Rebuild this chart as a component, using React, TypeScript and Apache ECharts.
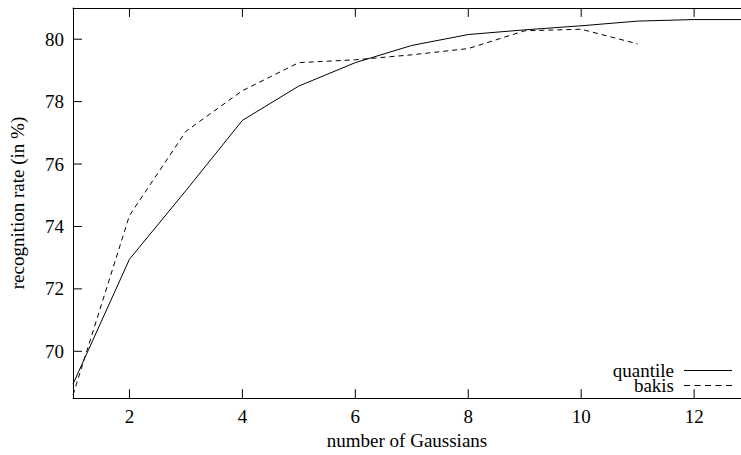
import React, { useEffect, useRef } from "react";
import * as echarts from "echarts";

const xGaussians = [1, 2, 3, 4, 5, 6, 7, 8, 9, 10, 11, 12, 13];
const quantile = [68.95, 72.95, 75.15, 77.4, 78.5, 79.25, 79.8, 80.15, 80.3, 80.43, 80.58, 80.63, 80.63];
const bakis = [68.6, 74.35, 77.05, 78.35, 79.25, 79.34, 79.5, 79.7, 80.27, 80.32, 79.85];
const xTicks = [2, 4, 6, 8, 10, 12];
const yTicks = [70, 72, 74, 76, 78, 80];

const FONT = "Liberation Serif";
const SOLID_ICON = "path://M0,0h48v1h-48z";
const DASH_ICON = "path://M0,0h6v1h-6zM10.5,0h6v1h-6zM21,0h6v1h-6zM31.5,0h6v1h-6zM42,0h6v1h-6z";

const X_MIN = 1;
const X_MAX = 12.83;
const Y_MIN = 68.5;
const Y_MAX = 81;
const TICK = 9;
const W = 741;
const H = 455;
const GRID = { left: 71, right: 0, top: 8, bottom: 53 };

export default function App() {
  const ref = useRef<HTMLDivElement>(null);
  useEffect(() => {
    if (!ref.current) return;
    const chart = echarts.init(ref.current, null, { renderer: "svg" });
    const axisLine = { show: true, lineStyle: { color: "#000", width: 1 } };
    const plotW = W - GRID.left - GRID.right;
    const plotH = H - GRID.top - GRID.bottom;
    const dx = (TICK * (X_MAX - X_MIN)) / plotW;
    const dy = (TICK * (Y_MAX - Y_MIN)) / plotH;
    const tickLine = (name: string, data: any[]) => ({
      name,
      type: "line",
      data,
      symbol: "none",
      showSymbol: false,
      connectNulls: false,
      silent: true,
      lineStyle: { color: "#000", width: 1 },
      itemStyle: { color: "#000" },
      z: 3,
    });
    const bottomTicks = xTicks.flatMap((x) => [[x, Y_MIN], [x, Y_MIN + dy], [x, "-"]]);
    const topTicks = xTicks.flatMap((x) => [[x, Y_MAX], [x, Y_MAX - dy], [x, "-"]]);
    const leftTicks = yTicks.flatMap((y) => [[X_MIN, y], [X_MIN + dx, y], ["-", y]]);
    const legendBase = {
      right: 4,
      align: "right",
      itemWidth: 48,
      itemHeight: 1,
      itemGap: 10,
      textStyle: {
        fontFamily: FONT,
        fontSize: 19,
        color: "#000",
        lineHeight: 15,
        padding: [0, 5, 0, 0],
      },
      itemStyle: { color: "#000" },
    };
    chart.setOption({
      animation: false,
      backgroundColor: "#fff",
      textStyle: { fontFamily: FONT, color: "#000" },
      grid: GRID,
      legend: [
        { ...legendBase, data: [{ name: "quantile", icon: SOLID_ICON }], top: 356 },
        { ...legendBase, data: [{ name: "bakis", icon: DASH_ICON }], top: 371 },
      ],
      xAxis: [
        {
          type: "value",
          min: X_MIN,
          max: X_MAX,
          position: "bottom",
          name: "number of Gaussians",
          nameLocation: "middle",
          nameGap: 29,
          nameTextStyle: { fontFamily: FONT, fontSize: 19, color: "#000" },
          axisLine,
          axisTick: { show: false },
          splitLine: { show: false },
          axisLabel: {
            customValues: xTicks,
            fontFamily: FONT,
            fontSize: 19,
            color: "#000",
            margin: 9,
          },
        },
        {
          type: "value",
          min: X_MIN,
          max: X_MAX,
          position: "top",
          axisLine,
          axisTick: { show: false },
          splitLine: { show: false },
          axisLabel: { show: false },
        },
      ],
      yAxis: {
        type: "value",
        min: Y_MIN,
        max: Y_MAX,
        position: "left",
        name: "recognition rate (in %)",
        nameLocation: "middle",
        nameGap: 46,
        nameTextStyle: { fontFamily: FONT, fontSize: 19, color: "#000" },
        axisLine,
        axisTick: { show: false },
        splitLine: { show: false },
        axisLabel: {
          customValues: yTicks,
          fontFamily: FONT,
          fontSize: 19,
          color: "#000",
          margin: 9,
        },
      },
      series: [
        {
          name: "quantile",
          type: "line",
          data: xGaussians.map((x, i) => [x, quantile[i]]),
          symbol: "none",
          showSymbol: false,
          lineStyle: { color: "#000", width: 1 },
          itemStyle: { color: "#000" },
        },
        {
          name: "bakis",
          type: "line",
          data: bakis.map((v, i) => [xGaussians[i], v]),
          symbol: "none",
          showSymbol: false,
          lineStyle: { color: "#000", width: 1, type: [5, 4] },
          itemStyle: { color: "#000" },
        },
        tickLine("ticks-bottom", bottomTicks),
        tickLine("ticks-top", topTicks),
        tickLine("ticks-left", leftTicks),
      ],
    });
    return () => chart.dispose();
  }, []);
  return (
    <div
      ref={ref}
      style={{ position: "fixed", left: 0, top: 0, width: W, height: H, background: "#fff" }}
    />
  );
}
